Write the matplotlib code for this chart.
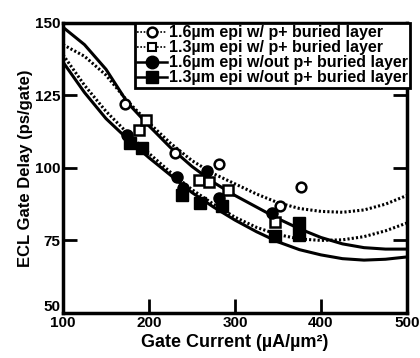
import matplotlib
matplotlib.use("Agg")
import matplotlib.pyplot as plt
from matplotlib.lines import Line2D
from matplotlib.transforms import ScaledTranslation

plt.rcParams['font.family'] = ['Liberation Sans', 'DejaVu Sans']
plt.rcParams['font.weight'] = 'bold'

# fitted delay curves, sampled every 25 uA/um^2
curve_x = [100, 125, 150, 175, 200, 225, 250, 275, 300, 325, 350, 375, 400, 425, 450, 475, 500]
fit_16_bl = [142.5, 138.5, 132, 123, 115.5, 108.5, 102.5, 98, 94.5, 91, 88, 86, 85, 84.7, 85.5, 87.5, 90.5]
fit_13_bl = [139, 128.5, 119.5, 112, 105, 98.5, 92.5, 87.5, 83, 79.5, 77, 75.5, 75, 75.2, 76.3, 78.3, 81]
fit_16_nobl = [148.5, 142.5, 134, 122.5, 114.5, 107, 100.5, 95, 90.5, 86.5, 82.5, 79, 76, 73.8, 72.5, 72, 72]
fit_13_nobl = [136.5, 126, 117, 110, 103.5, 97.5, 91.5, 86.5, 82, 78, 74.5, 71.8, 70, 68.7, 68.2, 68.5, 69.3]

# measured points
x_16_bl = [172, 230, 281, 352, 377]
y_16_bl = [122, 105, 101.5, 87, 93.5]
x_13_bl = [188, 196, 258, 270, 292, 346]
y_13_bl = [113, 116.5, 96, 95, 92.5, 81.5]
x_16_nobl = [174, 232, 240, 267, 281, 343]
y_16_nobl = [111.5, 97, 93, 99, 89.5, 84.5]
x_13_nobl = [178, 192, 238, 259, 285, 346, 374, 374]
y_13_nobl = [108.5, 107, 90.5, 88, 87, 76.5, 81, 77]

labels = ["1.6\u00b5m epi w/ p+ buried layer",
          "1.3\u00b5m epi w/ p+ buried layer",
          "1.6\u00b5m epi w/out p+ buried layer",
          "1.3\u00b5m epi w/out p+ buried layer"]

fig = plt.figure(figsize=(4.2, 3.58), dpi=100)
ax = fig.add_axes([0.15, 0.126, 0.819, 0.81])

dots = (0, (0.7, 0.7))
ax.plot(curve_x, fit_16_bl, color='k', lw=2.2, ls=dots)
ax.plot(curve_x, fit_13_bl, color='k', lw=2.2, ls=dots)
ax.plot(curve_x, fit_16_nobl, color='k', lw=2.2)
ax.plot(curve_x, fit_13_nobl, color='k', lw=2.2)

ax.plot(x_16_bl, y_16_bl, 'o', ms=7, mfc='white', mec='k', mew=1.8, ls='none')
ax.plot(x_13_bl, y_13_bl, 's', ms=7, mfc='white', mec='k', mew=1.8, ls='none')
ax.plot(x_16_nobl, y_16_nobl, 'o', ms=8, color='k', ls='none')
ax.plot(x_13_nobl, y_13_nobl, 's', ms=8, color='k', ls='none')

handles = [
    Line2D([], [], color='k', lw=1.2, ls=(0, (1, 1)), marker='o', ms=7, mfc='white', mec='k', mew=1.8),
    Line2D([], [], color='k', lw=1.2, ls=(0, (1, 1)), marker='s', ms=6, mfc='white', mec='k', mew=1.5),
    Line2D([], [], color='k', lw=1.8, marker='o', ms=9),
    Line2D([], [], color='k', lw=1.8, marker='s', ms=9),
]
leg = ax.legend(handles, labels, loc='upper right', bbox_to_anchor=(1.01, 1.0),
                numpoints=1, handlelength=1.9, handletextpad=0.1,
                labelspacing=0.0, borderpad=0.15, borderaxespad=0.0,
                fancybox=False, framealpha=1, edgecolor='k',
                prop={'size': 11.5, 'weight': 'bold'})
leg.get_frame().set_linewidth(2.0)

ax.set_xlim(100, 500)
ax.set_ylim(50, 150)
ax.set_xticks([100, 200, 300, 400, 500])
ax.set_yticks([50, 75, 100, 125, 150])
ax.tick_params(direction='in', length=10, width=2, labelsize=11,
               top=True, right=True, pad=2)
for lab in ax.get_xticklabels() + ax.get_yticklabels():
    lab.set_fontweight('bold')
# nudge the lowest y label up so it clears the first x label
low = ax.get_yticklabels()[0]
low.set_transform(low.get_transform() + ScaledTranslation(0, 5 / 72, fig.dpi_scale_trans))
for sp in ax.spines.values():
    sp.set_linewidth(2.5)

ax.set_xlabel("Gate Current (\u00b5A/\u00b5m\u00b2)", fontsize=13, fontweight='bold', labelpad=3)
ax.set_ylabel("ECL Gate Delay (ps/gate)", fontsize=12, fontweight='bold', labelpad=1)

fig.savefig("out.png", dpi=100)
